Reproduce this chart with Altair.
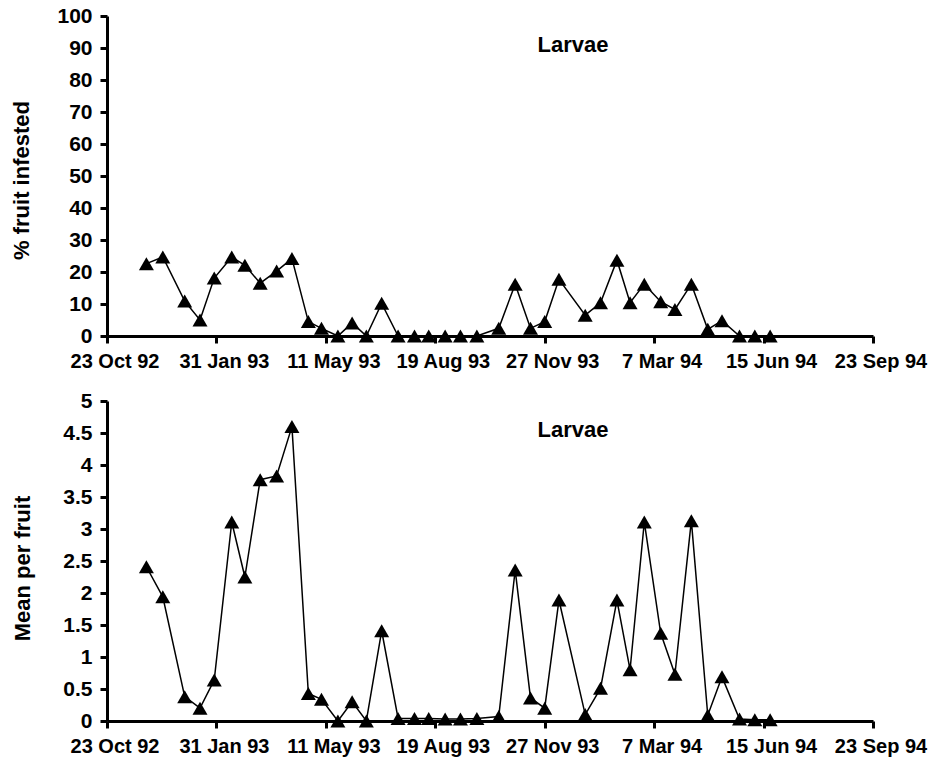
import altair as alt
import pandas as pd

# Sampling dates
dates = ["1992-11-28", "1992-12-13", "1993-01-02", "1993-01-16", "1993-01-29",
         "1993-02-14", "1993-02-26", "1993-03-12", "1993-03-27", "1993-04-10",
         "1993-04-25", "1993-05-07", "1993-05-22", "1993-06-04", "1993-06-17",
         "1993-07-01", "1993-07-16", "1993-07-31", "1993-08-13", "1993-08-28",
         "1993-09-11", "1993-09-26", "1993-10-16", "1993-10-31", "1993-11-14",
         "1993-11-27", "1993-12-10", "1994-01-03", "1994-01-17", "1994-02-01",
         "1994-02-13", "1994-02-26", "1994-03-13", "1994-03-26", "1994-04-10",
         "1994-04-25", "1994-05-08", "1994-05-24", "1994-06-07", "1994-06-21"]

# % fruit infested (larvae)
pct_infested = [22.6, 24.7, 10.9, 5.0, 18.1, 24.7, 22.1, 16.5, 20.3, 24.2,
                4.5, 2.4, 0.0, 4.1, 0.0, 10.2, 0.0, 0.0, 0.0, 0.0,
                0.0, 0.0, 2.4, 16.2, 2.4, 4.5, 17.7, 6.5, 10.4, 23.7,
                10.4, 16.2, 10.7, 8.3, 16.2, 2.1, 4.8, 0.0, 0.0, 0.0]

# Mean larvae per fruit
mean_per_fruit = [2.41, 1.94, 0.38, 0.20, 0.64, 3.11, 2.25, 3.77, 3.83, 4.60,
                  0.43, 0.34, 0.0, 0.30, 0.0, 1.41, 0.04, 0.04, 0.04, 0.03,
                  0.03, 0.04, 0.07, 2.36, 0.36, 0.20, 1.89, 0.10, 0.51, 1.89,
                  0.80, 3.11, 1.37, 0.73, 3.13, 0.09, 0.69, 0.03, 0.02, 0.02]

tick_labels = ["23 Oct 92", "31 Jan 93", "11 May 93", "19 Aug 93",
               "27 Nov 93", "7 Mar 94", "15 Jun 94", "23 Sep 94"]
tick_dates = ["1992-10-23", "1993-01-31", "1993-05-11", "1993-08-19",
              "1993-11-27", "1994-03-07", "1994-06-15", "1994-09-23"]
panel_label = "Larvae"

start = pd.Timestamp("1992-10-23")
df = pd.DataFrame({
    "date": dates,
    "pct": pct_infested,
    "mean": mean_per_fruit,
})
df["day"] = (pd.to_datetime(df["date"]) - start).dt.days

ticks_df = pd.DataFrame({"label": tick_labels, "date": tick_dates})
ticks_df["day"] = (pd.to_datetime(ticks_df["date"]) - start).dt.days
tick_days = ticks_df["day"].tolist()

FONT = "Liberation Sans"
W, H = 766, 320

xscale = alt.Scale(domain=[0, 700], nice=False, zero=False)


def panel(field, title, domain, ticks, title_pad, title_y):
    base = alt.Chart(df).encode(
        x=alt.X("day:Q", scale=xscale,
                axis=alt.Axis(values=tick_days, labels=False, title=None)),
        y=alt.Y(f"{field}:Q",
                scale=alt.Scale(domain=domain, nice=False),
                axis=alt.Axis(values=ticks, format="~f", title=title,
                              titlePadding=title_pad, titleY=title_y,
                              labelPadding=8, labelFontSize=21)),
    )
    line = base.mark_line(color="black", strokeWidth=1.5)
    pts = base.mark_point(shape="triangle-up", filled=True, size=225,
                          color="black", opacity=1)
    xlabels = alt.Chart(ticks_df).mark_text(
        font=FONT, fontSize=20, fontWeight="bold", color="black",
        align="center", baseline="top", dx=8
    ).encode(x=alt.X("day:Q", scale=xscale), y=alt.value(H + 16),
             text="label:N")
    lab = alt.Chart(pd.DataFrame({"t": [panel_label]})).mark_text(
        font=FONT, fontSize=22, fontWeight="bold", color="black",
        align="center", baseline="middle"
    ).encode(x=alt.value(466), y=alt.value(29), text="t:N")
    return alt.layer(line, pts, xlabels, lab).properties(width=W, height=H)


top = panel("pct", "% fruit infested", [0, 100], list(range(0, 101, 10)), 23, 164)
bottom = panel("mean", "Mean per fruit", [0, 5], [i * 0.5 for i in range(11)], 28, 167)

chart = alt.vconcat(top, bottom, spacing=18).properties(
    padding={"left": 10, "top": 5, "right": 0, "bottom": 0}
).configure_view(stroke=None).configure_axis(
    domainColor="black", domainWidth=3, tickColor="black", tickWidth=3,
    tickSize=7, grid=False, labelFont=FONT, labelFontSize=20,
    labelFontWeight="bold", labelColor="black", titleFont=FONT,
    titleFontSize=22, titleFontWeight="bold", titleColor="black",
)

chart.save("out.html", embed_options={"renderer": "svg", "actions": False})
